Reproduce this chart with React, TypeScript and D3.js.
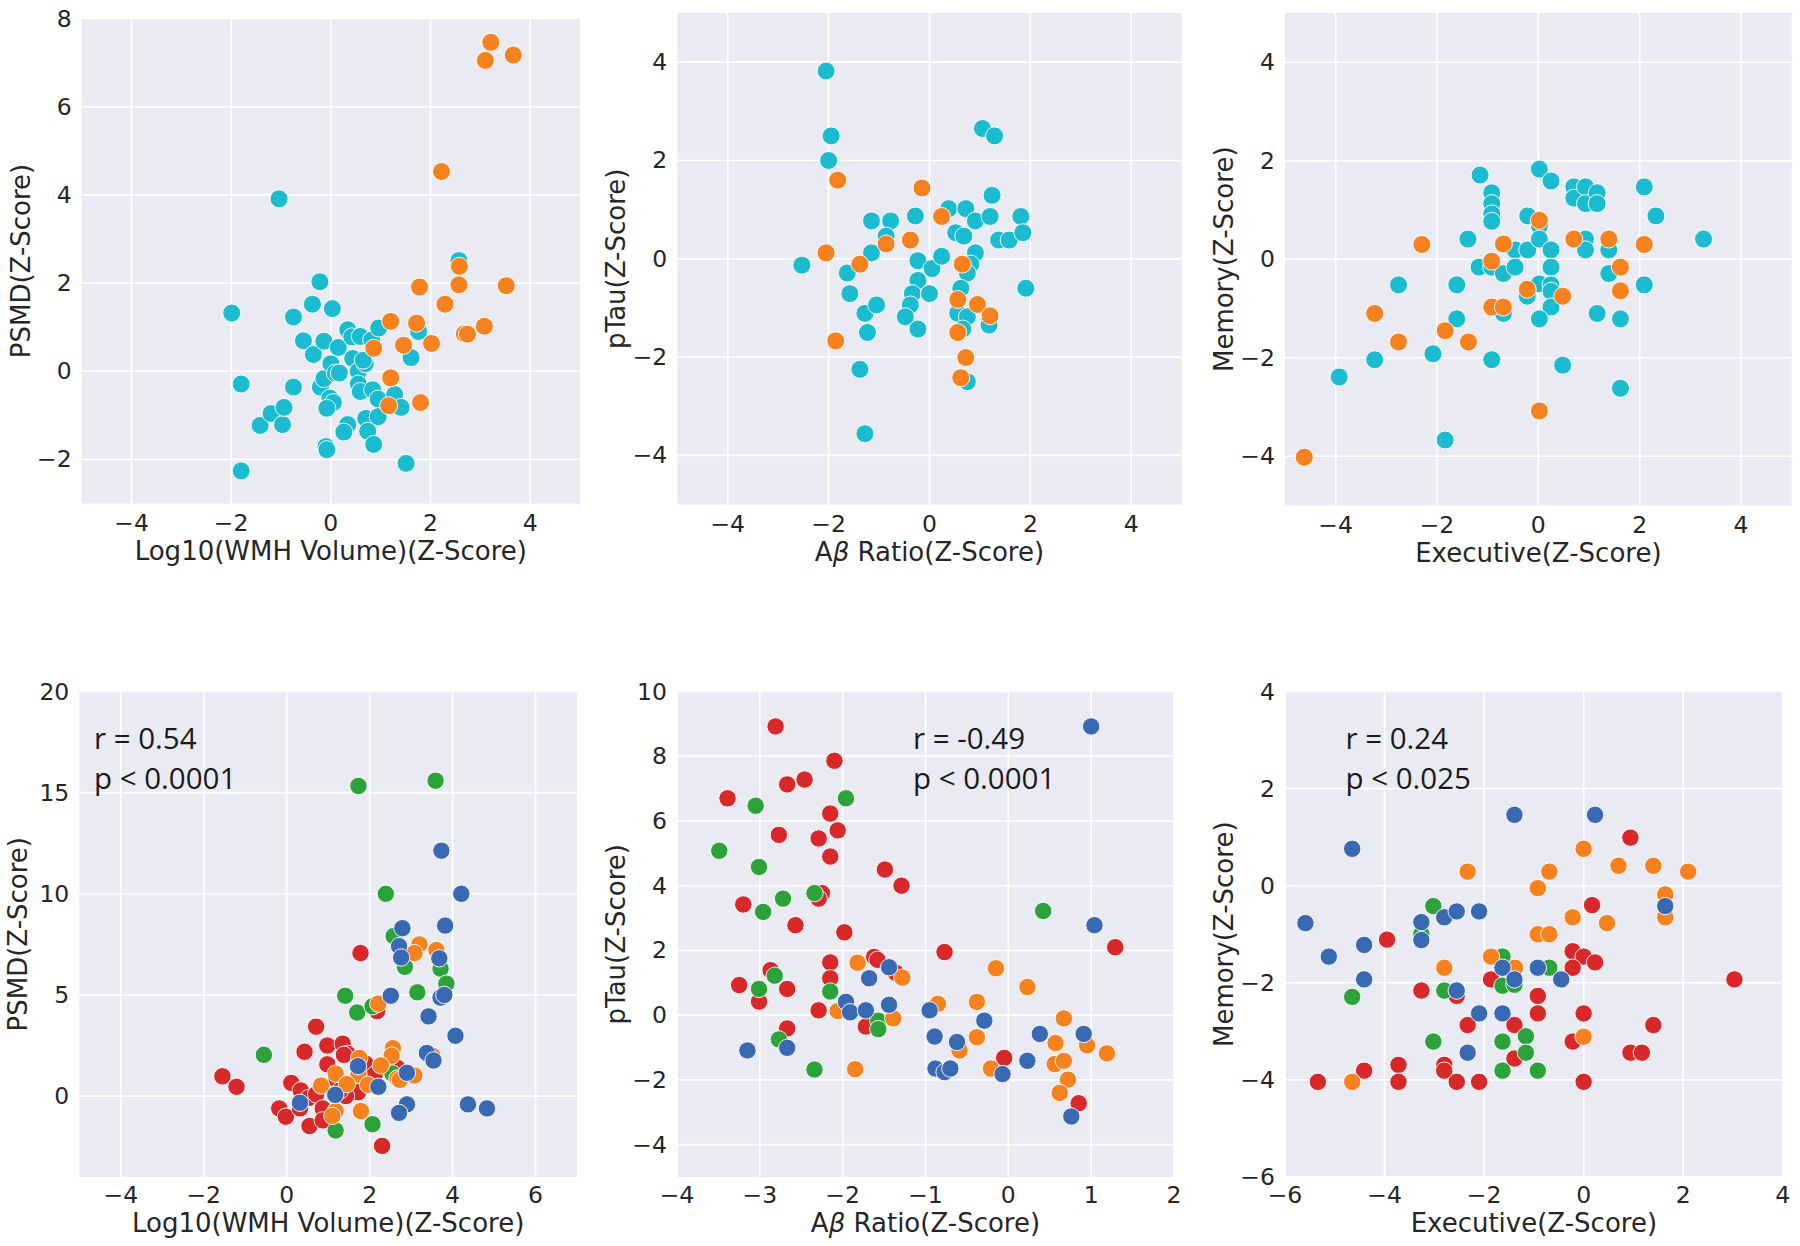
import React from "react";
import * as d3 from "d3";

type Pt = [number, number];

// ---------- Top row data ----------
const p1Cyan: Pt[] = [
  [-1.04, 3.91], [-1.99, 1.32], [-1.8, -0.29], [-1.8, -2.26], [-1.42, -1.23], [-1.2, -0.96],
  [-0.97, -1.21], [-0.94, -0.82], [-0.75, 1.23], [-0.75, -0.36], [-0.55, 0.69], [-0.37, 1.52],
  [-0.35, 0.38], [-0.22, 2.03], [-0.14, 0.68], [0.03, 1.42], [-0.21, -0.36], [-0.14, -0.17],
  [0.0, 0.17], [0.09, -0.04], [0.17, -0.04], [-0.02, -0.61], [0.05, -0.71], [-0.08, -0.84],
  [-0.1, -1.71], [-0.08, -1.78], [0.15, 0.54], [0.34, 0.94], [0.42, 0.78], [0.59, 0.79],
  [0.44, 0.29], [0.55, 0.0], [0.69, 0.17], [0.65, 0.25], [0.55, -0.29], [0.59, -0.46],
  [0.82, 0.71], [0.96, 0.98], [0.84, -0.42], [0.95, -0.63], [0.7, -1.07], [0.74, -1.36],
  [0.86, -1.66], [0.95, -1.03], [0.34, -1.21], [0.26, -1.38], [1.28, -0.53], [1.41, -0.82],
  [1.51, -2.09], [1.61, 0.31], [1.76, 0.9], [2.57, 2.51],
];
const p1Orange: Pt[] = [
  [3.21, 7.46], [3.1, 7.05], [3.66, 7.17], [2.22, 4.53], [2.58, 2.38], [2.57, 1.96],
  [3.52, 1.94], [1.78, 1.91], [2.29, 1.52], [1.2, 1.13], [1.72, 1.09], [2.68, 0.85],
  [2.74, 0.84], [3.08, 1.02], [2.02, 0.63], [1.46, 0.59], [0.86, 0.52], [1.2, -0.15],
  [1.8, -0.71], [1.16, -0.78],
];

const p2Cyan: Pt[] = [
  [-2.05, 3.82], [-1.95, 2.5], [-2.0, 2.0], [-2.53, -0.13], [-1.63, -0.29], [-1.58, -0.71],
  [-1.28, -1.11], [-1.23, -1.5], [-1.38, -2.25], [-1.28, -3.56], [-1.15, 0.77], [-0.77, 0.77],
  [-0.86, 0.46], [-1.15, 0.12], [-1.05, -0.94], [-0.28, 0.87], [-0.23, -0.04], [-0.23, -0.44],
  [-0.34, -0.71], [-0.38, -0.94], [-0.48, -1.18], [-0.23, -1.43], [0.0, -0.71], [0.05, -0.2],
  [0.24, 0.05], [0.38, 1.02], [0.52, 0.53], [0.68, 0.46], [0.72, 1.02], [0.91, 0.77],
  [0.91, 0.12], [0.82, -0.11], [0.75, -0.29], [0.62, -0.6], [0.56, -1.11], [0.75, -1.18],
  [0.66, -1.43], [0.75, -2.5], [1.05, 2.65], [1.29, 2.5], [1.24, 1.29], [1.2, 0.86],
  [1.37, 0.38], [1.58, 0.38], [1.81, 0.86], [1.85, 0.53], [1.91, -0.6], [1.18, -1.23],
  [1.18, -1.35],
];
const p2Orange: Pt[] = [
  [-1.82, 1.6], [-0.15, 1.44], [-2.05, 0.12], [-1.38, -0.11], [-0.86, 0.3], [-0.38, 0.38],
  [0.24, 0.86], [-1.86, -1.67], [0.65, -0.11], [0.56, -0.83], [0.95, -0.93], [1.2, -1.16],
  [0.56, -1.5], [0.72, -2.01], [0.62, -2.42],
];

const p3Cyan: Pt[] = [
  [-1.15, 1.71], [-0.92, 1.35], [-0.92, 1.13], [-0.92, 0.92], [-0.92, 0.77], [-1.39, 0.41],
  [-1.17, -0.16], [-0.92, -0.16], [-0.69, -0.29], [-0.46, 0.19], [-0.46, -0.16], [-0.21, 0.88],
  [-0.21, 0.19], [0.02, 1.83], [0.25, 1.59], [0.02, 0.68], [0.02, 0.41], [0.25, 0.19],
  [0.25, -0.16], [0.02, -0.5], [0.25, -0.52], [0.25, -0.65], [-0.22, -0.75], [0.25, -0.97],
  [0.02, -1.21], [-0.69, -1.1], [-1.61, -0.52], [-1.61, -1.21], [-2.76, -0.52], [-3.23, -2.04],
  [-3.93, -2.39], [-2.08, -1.92], [-0.92, -2.04], [0.48, -2.15], [-1.84, -3.67], [0.7, 1.47],
  [0.7, 1.24], [0.93, 1.47], [0.93, 1.13], [1.16, 1.35], [1.16, 1.13], [0.93, 0.41],
  [0.93, 0.19], [1.39, 0.19], [1.39, -0.29], [1.16, -1.1], [1.62, -1.21], [1.62, -2.62],
  [2.09, 1.47], [2.32, 0.88], [3.26, 0.41], [2.09, -0.52],
];
const p3Orange: Pt[] = [
  [-2.3, 0.3], [-0.69, 0.31], [-0.92, -0.04], [0.02, 0.79], [0.7, 0.41], [1.39, 0.41],
  [2.09, 0.3], [1.62, -0.16], [1.62, -0.64], [0.48, -0.75], [-0.22, -0.61], [-0.92, -0.97],
  [-0.69, -0.97], [-3.23, -1.1], [-1.84, -1.45], [-2.76, -1.68], [-1.38, -1.68], [0.02, -3.08],
  [-4.62, -4.02],
];

// ---------- Bottom row data ----------
const p4Red: Pt[] = [
  [-1.55, 0.98], [-1.21, 0.46], [0.11, 0.65], [0.34, 0.28], [0.43, 2.19], [0.71, 3.43],
  [0.98, 2.5], [0.98, 1.57], [1.35, 2.59], [1.47, 2.09], [1.38, 2.04], [-0.18, -0.61],
  [-0.02, -1.02], [0.32, -0.61], [0.53, -0.09], [0.71, 0.09], [0.55, -1.48], [0.87, -0.61],
  [0.87, -1.2], [1.78, 7.07], [1.72, 0.19], [1.9, 1.61], [2.18, 4.2], [2.12, 1.06],
  [2.53, 1.57], [2.3, -2.46], [1.43, 0.0], [1.2, 0.83], [1.29, 0.28], [2.67, 1.39],
];
const p4Green: Pt[] = [
  [1.73, 15.33], [3.59, 15.59], [2.39, 10.0], [2.58, 7.91], [2.85, 6.39], [3.71, 6.3],
  [3.85, 5.56], [3.15, 5.13], [1.41, 4.96], [1.7, 4.13], [2.07, 4.44], [-0.55, 2.04],
  [2.55, 1.11], [1.18, -1.7], [2.07, -1.39],
];
const p4Orange: Pt[] = [
  [3.2, 7.5], [3.08, 7.07], [3.61, 7.22], [2.21, 4.57], [2.56, 2.37], [2.53, 2.0],
  [3.51, 2.0], [1.75, 1.89], [2.27, 1.52], [1.18, 1.11], [1.73, 1.06], [2.67, 0.87],
  [2.73, 0.8], [3.08, 1.02], [1.96, 0.56], [1.45, 0.59], [0.83, 0.52], [1.18, -0.74],
  [1.79, -0.74], [1.1, -0.98],
];
const p4Blue: Pt[] = [
  [3.73, 12.13], [4.21, 10.0], [3.82, 8.43], [2.79, 8.3], [2.71, 7.41], [2.76, 6.85],
  [3.68, 6.81], [2.51, 4.96], [3.71, 4.87], [3.8, 5.0], [3.42, 3.94], [4.07, 2.98],
  [3.38, 2.13], [3.54, 1.76], [2.9, 1.15], [2.21, 0.46], [1.72, 1.48], [1.17, 0.06],
  [0.32, -0.33], [2.9, -0.41], [2.71, -0.83], [4.37, -0.41], [4.83, -0.61],
];

const p5Red: Pt[] = [
  [-2.81, 8.92], [-2.1, 7.86], [-2.67, 7.13], [-2.46, 7.28], [-3.39, 6.7], [-2.15, 6.23],
  [-2.06, 5.71], [-2.77, 5.57], [-2.29, 5.46], [-2.15, 4.9], [-1.49, 4.5], [-1.29, 4.0],
  [-2.25, 3.77], [-2.29, 3.6], [-3.2, 3.42], [-2.57, 2.78], [-1.98, 2.56], [-0.77, 1.95],
  [1.29, 2.1], [-2.15, 1.63], [-1.62, 1.8], [-1.58, 1.71], [-1.36, 1.31], [-2.87, 1.39],
  [-2.15, 1.14], [-3.25, 0.93], [-2.67, 0.81], [-3.01, 0.42], [-2.29, 0.15], [-2.67, -0.41],
  [-1.72, -0.35], [-0.05, -1.32], [0.85, -2.72],
];
const p5Green: Pt[] = [
  [-3.05, 6.47], [-1.96, 6.7], [-3.49, 5.08], [-3.01, 4.58], [-2.72, 3.6], [-2.34, 3.77],
  [-2.96, 3.19], [0.42, 3.22], [-2.82, 1.22], [-3.01, 0.81], [-2.15, 0.73], [-1.57, -0.17],
  [-1.57, -0.43], [-2.77, -0.75], [-2.34, -1.68],
];
const p5Orange: Pt[] = [
  [-1.82, 1.62], [-1.28, 1.16], [-0.15, 1.45], [0.23, 0.87], [-0.85, 0.35], [-0.38, 0.41],
  [-2.06, 0.13], [-1.39, -0.1], [0.67, -0.1], [-0.38, -0.68], [-0.59, -1.09], [0.57, -0.86],
  [0.95, -0.93], [1.19, -1.18], [-0.21, -1.65], [-1.85, -1.67], [0.56, -1.51], [0.67, -1.41],
  [0.72, -1.99], [0.62, -2.4],
];
const p5Blue: Pt[] = [
  [1.0, 8.92], [1.04, 2.78], [-1.44, 1.48], [-1.68, 1.14], [-1.96, 0.41], [-1.91, 0.09],
  [-1.72, 0.15], [-1.44, 0.32], [-0.95, 0.15], [-0.29, -0.17], [-0.89, -0.66], [-0.62, -0.83],
  [0.38, -0.58], [0.91, -0.58], [-0.88, -1.65], [-0.77, -1.76], [-0.7, -1.65], [-0.07, -1.82],
  [0.23, -1.41], [0.76, -3.13], [-3.15, -1.09], [-2.67, -1.01],
];

const p6Red: Pt[] = [
  [0.94, 0.99], [0.17, -0.4], [-3.95, -1.11], [-0.22, -1.35], [0.0, -1.46], [0.23, -1.58],
  [-0.22, -1.69], [-1.86, -1.93], [3.03, -1.93], [-3.26, -2.16], [-2.55, -2.27], [-0.92, -2.27],
  [-0.92, -2.63], [0.0, -2.63], [-2.33, -2.87], [-1.39, -2.87], [1.4, -2.87], [-0.22, -3.21],
  [0.94, -3.44], [1.17, -3.44], [-1.39, -3.56], [-3.72, -3.69], [-2.8, -3.69], [-2.8, -3.81],
  [-4.41, -3.81], [-5.34, -4.04], [-3.72, -4.04], [-2.55, -4.04], [-2.1, -4.04], [0.0, -4.04],
];
const p6Green: Pt[] = [
  [-3.02, -0.42], [-3.26, -1.0], [-4.65, -2.29], [-2.8, -2.16], [-1.63, -1.46], [-1.63, -2.06],
  [-1.39, -2.04], [-0.69, -1.69], [-3.02, -3.21], [-1.63, -3.21], [-1.16, -3.1], [-1.16, -3.44],
  [-1.63, -3.81], [-0.92, -3.81],
];
const p6Orange: Pt[] = [
  [-2.33, 0.29], [-0.69, 0.29], [0.0, 0.76], [-0.92, -0.05], [0.7, 0.41], [1.4, 0.41],
  [2.1, 0.29], [1.64, -0.18], [1.64, -0.65], [-0.22, -0.65], [0.47, -0.77], [-0.92, -1.0],
  [-0.69, -1.0], [-1.86, -1.46], [-1.38, -1.69], [-2.8, -1.69], [0.0, -3.11], [-4.65, -4.04],
];
const p6Blue: Pt[] = [
  [-1.39, 1.46], [0.23, 1.46], [-4.65, 0.76], [-5.59, -0.77], [-5.12, -1.46], [-4.41, -1.22],
  [-4.41, -1.93], [-3.26, -0.75], [-3.26, -1.12], [-2.8, -0.65], [-2.55, -0.53], [-2.1, -0.53],
  [1.64, -0.42], [-1.63, -1.69], [-1.39, -1.93], [-0.92, -1.69], [-0.45, -1.93], [-2.55, -2.16],
  [-2.1, -2.63], [-1.63, -2.63], [-2.33, -3.44],
];

// ---------- Axis text ----------
// [prefix, italic part, suffix]
const xLabels: [string, string, string][] = [
  ["Log10(WMH Volume)(Z-Score)", "", ""],
  ["A", "β", " Ratio(Z-Score)"],
  ["Executive(Z-Score)", "", ""],
  ["Log10(WMH Volume)(Z-Score)", "", ""],
  ["A", "β", " Ratio(Z-Score)"],
  ["Executive(Z-Score)", "", ""],
];
const yLabels = [
  "PSMD(Z-Score)",
  "pTau(Z-Score)",
  "Memory(Z-Score)",
  "PSMD(Z-Score)",
  "pTau(Z-Score)",
  "Memory(Z-Score)",
];
const xTicksList = [
  [-4, -2, 0, 2, 4],
  [-4, -2, 0, 2, 4],
  [-4, -2, 0, 2, 4],
  [-4, -2, 0, 2, 4, 6],
  [-4, -3, -2, -1, 0, 1, 2],
  [-6, -4, -2, 0, 2, 4],
];
const yTicksList = [
  [-2, 0, 2, 4, 6, 8],
  [-4, -2, 0, 2, 4],
  [-4, -2, 0, 2, 4],
  [0, 5, 10, 15, 20],
  [-4, -2, 0, 2, 4, 6, 8, 10],
  [-6, -4, -2, 0, 2, 4],
];
const annotations: (string[] | null)[] = [
  null,
  null,
  null,
  ["r = 0.54", "p < 0.0001"],
  ["r = -0.49", "p < 0.0001"],
  ["r = 0.24", "p < 0.025"],
];

const COLORS = {
  cyan: "#1bbccf",
  orange: "#f5821f",
  blue: "#3a69b3",
  green: "#2ca33a",
  red: "#d8282a",
};

type Series = { pts: Pt[]; color: string };
type PanelCfg = {
  box: [number, number, number, number]; // left, right, top, bottom
  xDomain: [number, number];
  yDomain: [number, number];
  series: Series[];
  r: number;
  annX: number;
  tickOff: number;
  labelOff: number;
};

const panels: PanelCfg[] = [
  {
    box: [81.7, 580, 18.5, 503.5], xDomain: [-5, 5], yDomain: [-3, 8], r: 9, tickOff: 19, labelOff: 47,
    series: [{ pts: p1Cyan, color: COLORS.cyan }, { pts: p1Orange, color: COLORS.orange }], annX: 0,
  },
  {
    box: [677.3, 1181.7, 13, 504.5], xDomain: [-5, 5], yDomain: [-5, 5], r: 9, tickOff: 19, labelOff: 47,
    series: [{ pts: p2Cyan, color: COLORS.cyan }, { pts: p2Orange, color: COLORS.orange }], annX: 0,
  },
  {
    box: [1285, 1791.7, 13, 505.5], xDomain: [-5, 5], yDomain: [-5, 5], r: 9, tickOff: 19, labelOff: 47,
    series: [{ pts: p3Cyan, color: COLORS.cyan }, { pts: p3Orange, color: COLORS.orange }], annX: 0,
  },
  {
    box: [79.3, 577, 691.5, 1177], xDomain: [-5, 7], yDomain: [-4, 20], r: 8.7, tickOff: 18, labelOff: 46,
    series: [
      { pts: p4Red, color: COLORS.red }, { pts: p4Green, color: COLORS.green },
      { pts: p4Orange, color: COLORS.orange }, { pts: p4Blue, color: COLORS.blue },
    ], annX: 94,
  },
  {
    box: [677, 1174, 691.5, 1177], xDomain: [-4, 2], yDomain: [-5, 10], r: 8.7, tickOff: 18, labelOff: 46,
    series: [
      { pts: p5Red, color: COLORS.red }, { pts: p5Green, color: COLORS.green },
      { pts: p5Orange, color: COLORS.orange }, { pts: p5Blue, color: COLORS.blue },
    ], annX: 913,
  },
  {
    box: [1285, 1782.7, 691.5, 1177], xDomain: [-6, 4], yDomain: [-6, 4], r: 8.7, tickOff: 18, labelOff: 46,
    series: [
      { pts: p6Red, color: COLORS.red }, { pts: p6Green, color: COLORS.green },
      { pts: p6Orange, color: COLORS.orange }, { pts: p6Blue, color: COLORS.blue },
    ], annX: 1345.5,
  },
];

const FONT = "'DejaVu Sans', sans-serif";
const TEXT = "#262626";
const fmt = (t: number) => (t < 0 ? "\u2212" + Math.abs(t) : String(t));

function Panel({ cfg, i }: { cfg: PanelCfg; i: number }) {
  const [left, right, top, bottom] = cfg.box;
  const x = d3.scaleLinear().domain(cfg.xDomain).range([left, right]);
  const y = d3.scaleLinear().domain(cfg.yDomain).range([bottom, top]);
  const ann = annotations[i];
  const [pre, ital, post] = xLabels[i];
  return (
    <g>
      <rect x={left} y={top} width={right - left} height={bottom - top} fill="#eaeaf2" />
      {xTicksList[i].map((t) => (
        <line key={"gx" + t} x1={x(t)} x2={x(t)} y1={top} y2={bottom} stroke="#fff" strokeWidth={1.6} />
      ))}
      {yTicksList[i].map((t) => (
        <line key={"gy" + t} x1={left} x2={right} y1={y(t)} y2={y(t)} stroke="#fff" strokeWidth={1.6} />
      ))}
      {xTicksList[i].map((t) => (
        <text key={"tx" + t} x={x(t)} y={bottom + cfg.tickOff} textAnchor="middle" dominantBaseline="central"
          fontFamily={FONT} fontSize={23.5} fill={TEXT}>{fmt(t)}</text>
      ))}
      {yTicksList[i].map((t) => (
        <text key={"ty" + t} x={left - 10} y={y(t)} textAnchor="end" dominantBaseline="central"
          fontFamily={FONT} fontSize={23.5} fill={TEXT}>{fmt(t)}</text>
      ))}
      <text x={(left + right) / 2} y={bottom + cfg.labelOff} textAnchor="middle" dominantBaseline="central"
        fontFamily={FONT} fontSize={26} fill={TEXT}>
        {pre}
        {ital && <tspan fontStyle="italic">{ital}</tspan>}
        {post}
      </text>
      <text transform={`translate(${left - 61},${(top + bottom) / 2}) rotate(-90)`} textAnchor="middle"
        dominantBaseline="central" fontFamily={FONT} fontSize={26} fill={TEXT}>{yLabels[i]}</text>
      {cfg.series.map((s, si) => (
        <g key={"s" + si}>
          {s.pts.map((p, pi) => (
            <circle key={pi} cx={x(p[0])} cy={y(p[1])} r={cfg.r} fill={s.color} stroke="#fff" strokeWidth={0.9} />
          ))}
        </g>
      ))}
      {ann && ann.map((line, li) => (
        <text key={"a" + li} x={cfg.annX} y={749 + li * 40} fontFamily="'Open Sans', sans-serif"
          fontSize={29.5} fill="#1a1a1a">{line}</text>
      ))}
    </g>
  );
}

export default function App() {
  return (
    <svg width={1800} height={1246} style={{ position: "absolute", left: 0, top: 0, background: "#fff" }}>
      <rect x={0} y={0} width={1800} height={1246} fill="#fff" />
      {panels.map((p, i) => (
        <Panel key={i} cfg={p} i={i} />
      ))}
    </svg>
  );
}
